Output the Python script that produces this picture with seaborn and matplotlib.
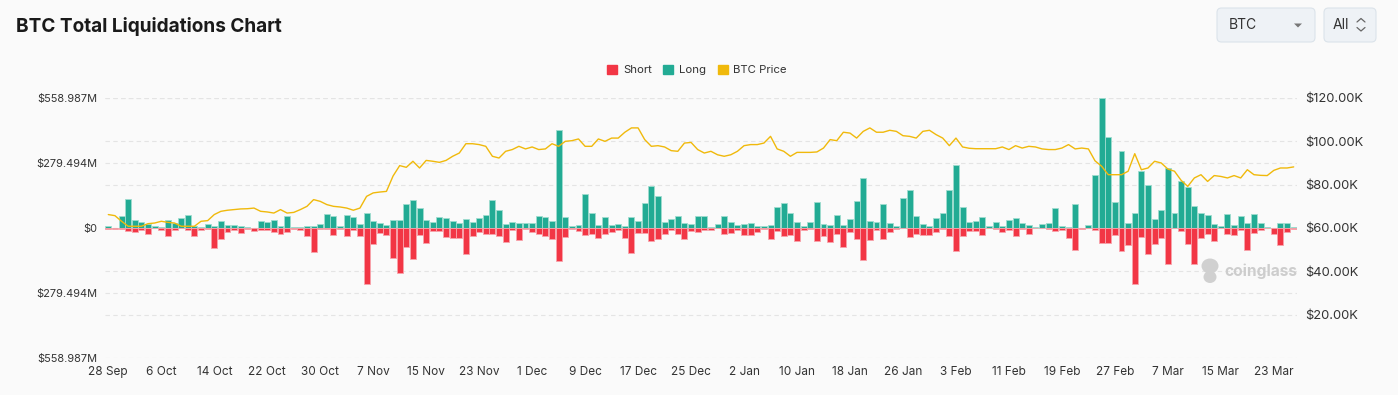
import numpy as np
import pandas as pd
import seaborn as sns
import matplotlib.pyplot as plt
from matplotlib.patches import Patch, FancyBboxPatch, Polygon, Ellipse
from matplotlib.lines import Line2D

# daily values, 28 Sep 2024 .. 26 Mar 2025
dates = pd.date_range('2024-09-28', periods=180, freq='D')

long_liq = [  # $M
    8, 2, 53, 125, 36, 24, 17, 9, 4, 36, 21, 43, 57, 7, 3, 17, 7, 29, 14, 14,
    10, 4, 2, 30, 26, 34, 10, 52, 3, 3, 7, 10, 19, 62, 50, 7, 57, 46, 19, 63,
    32, 23, 14, 36, 36, 105, 122, 86, 34, 24, 47, 43, 32, 23, 39, 27, 44, 54, 122, 77,
    17, 26, 21, 21, 21, 50, 47, 32, 420, 46, 7, 13, 145, 64, 14, 47, 14, 16, 9, 46,
    30, 109, 182, 136, 24, 40, 52, 21, 17, 50, 50, 3, 17, 53, 26, 11, 19, 21, 7, 10,
    14, 90, 108, 64, 26, 9, 26, 110, 19, 14, 54, 13, 40, 118, 216, 30, 26, 102, 20, 7,
    129, 162, 50, 16, 10, 42, 63, 165, 271, 89, 26, 30, 47, 7, 26, 9, 34, 44, 21, 14,
    3, 16, 23, 85, 10, 3, 103, 1, 13, 229, 558.987, 391, 110, 331, 20, 64, 244, 185, 40, 79,
    259, 64, 204, 175, 96, 63, 57, 19, 7, 62, 14, 50, 21, 60, 23, 3, 1, 23, 23, 3,
]
short_liq = [  # $M
    3, 4, 4, 14, 19, 10, 24, 1, 7, 36, 10, 2, 10, 33, 7, 4, 87, 49, 19, 7,
    21, 4, 11, 10, 7, 19, 24, 16, 4, 9, 36, 105, 4, 4, 32, 4, 36, 10, 36, 239,
    69, 21, 32, 130, 195, 82, 132, 30, 64, 14, 14, 39, 44, 43, 112, 36, 16, 24, 26, 36,
    60, 10, 52, 4, 17, 26, 33, 47, 143, 40, 4, 14, 32, 26, 44, 27, 19, 7, 42, 107,
    21, 21, 54, 49, 24, 10, 27, 46, 11, 17, 10, 7, 1, 24, 21, 7, 32, 32, 16, 3,
    47, 11, 36, 30, 57, 7, 3, 57, 36, 60, 24, 82, 19, 49, 138, 50, 7, 49, 16, 4,
    1, 39, 24, 30, 29, 19, 4, 33, 100, 34, 11, 11, 30, 2, 4, 16, 9, 33, 4, 26,
    2, 1, 4, 14, 9, 44, 96, 3, 1, 10, 64, 64, 32, 97, 75, 239, 40, 112, 69, 44,
    153, 2, 14, 70, 153, 43, 24, 54, 1, 27, 30, 10, 95, 23, 10, 1, 24, 73, 16, 3,
]
btc_price = [  # $K
    66.2, 65.7, 63.1, 60.8, 60.8, 60.8, 62.0, 62.3, 63.1, 62.6,
    62.3, 60.8, 60.8, 60.8, 63.1, 63.4, 66.2, 67.7, 68.2, 68.5,
    68.8, 68.9, 69.2, 67.7, 67.4, 66.9, 68.5, 66.9, 67.2, 68.5,
    70.0, 73.1, 72.3, 70.8, 70.0, 69.7, 69.2, 68.2, 69.2, 74.6,
    76.2, 76.6, 76.9, 84.0, 88.8, 88.0, 90.8, 87.7, 91.2, 90.8,
    90.3, 91.2, 93.1, 94.6, 98.9, 98.9, 98.5, 97.7, 93.1, 92.3,
    95.4, 96.2, 97.7, 96.5, 97.4, 96.2, 96.5, 98.9, 97.7, 100.0,
    100.3, 101.1, 97.7, 97.7, 101.1, 100.0, 101.5, 101.5, 104.2, 106.2,
    106.2, 100.8, 97.7, 98.0, 97.4, 95.7, 95.4, 99.2, 99.5, 96.2,
    94.6, 95.4, 93.8, 93.1, 93.8, 95.4, 98.0, 98.5, 98.5, 99.2,
    102.3, 96.5, 95.4, 93.1, 94.9, 94.9, 94.9, 95.1, 96.9, 100.8,
    100.3, 104.2, 103.8, 101.5, 104.6, 106.2, 104.2, 104.2, 105.1, 104.6,
    102.6, 102.3, 101.5, 104.6, 105.1, 103.1, 101.5, 98.0, 101.5, 97.4,
    96.8, 96.6, 96.6, 96.6, 96.6, 97.4, 96.2, 98.0, 96.9, 97.7,
    97.4, 96.5, 96.2, 96.2, 96.9, 98.5, 96.5, 96.9, 96.5, 91.0,
    88.5, 84.6, 84.6, 84.6, 86.2, 94.3, 86.9, 87.7, 90.8, 90.0,
    87.2, 86.2, 82.0, 79.2, 83.1, 84.6, 81.5, 84.2, 83.8, 83.1,
    84.2, 83.1, 86.9, 84.6, 84.3, 84.2, 86.6, 87.7, 87.7, 88.2,
]

left_max = 558.987
left_ticks = [-558.987, -279.494, 0, 279.494, 558.987]
right_ticks = [20, 40, 60, 80, 100, 120]

GREEN, GREEN_EDGE = '#22ab94', '#9fdccf'
RED, RED_EDGE = '#f23645', '#f8a3ab'
YELLOW = '#f0b90b'
BG = '#fafafa'
TXT = '#333333'

sns.set_style('white')
plt.rcParams['font.family'] = ['Inter', 'DejaVu Sans']

W, H = 1398, 395
fig = plt.figure(figsize=(W / 100, H / 100), dpi=100, facecolor=BG)
ax = fig.add_axes([105 / W, 1 - 358 / H, 1192 / W, 260 / H])
ax.set_facecolor(BG)

day_idx = np.arange(len(dates))
sns.barplot(x=day_idx, y=long_liq, ax=ax, color=GREEN, saturation=1, width=0.9,
            edgecolor=GREEN_EDGE, linewidth=0.6, zorder=2)
sns.barplot(x=day_idx, y=-np.array(short_liq), ax=ax, color=RED, saturation=1, width=0.9,
            edgecolor=RED_EDGE, linewidth=0.6, zorder=2)

ax.set_xlim(-0.5, len(dates) - 0.5)
ax.set_ylim(-left_max, left_max)
ax.set_yticks(left_ticks)
ax.set_yticklabels(['$0' if v == 0 else f'${abs(v):.3f}M' for v in left_ticks])
tick_pos = list(range(0, len(dates), 8))
ax.set_xticks(tick_pos)
ax.set_xticklabels([f"{dates[i].day} {dates[i].strftime('%b')}" for i in tick_pos])
ax.tick_params(axis='both', length=0, labelcolor=TXT)
ax.tick_params(axis='x', pad=6, labelsize=8.5)
ax.tick_params(axis='y', pad=5.5, labelsize=7.9)
ax.set_xlabel('')
ax.set_ylabel('')

# price axis
ax2 = ax.twinx()
sns.lineplot(x=day_idx, y=btc_price, ax=ax2, color=YELLOW, linewidth=1)
ax2.set_ylim(0, 120)
ax2.set_yticks(right_ticks)
ax2.set_yticklabels([f'${v:.2f}K' for v in right_ticks])
ax2.tick_params(axis='y', length=0, labelsize=9.3, labelcolor=TXT, pad=6)
ax2.set_ylabel('')

# dashed grid for both scales, kept behind the bars
grid_vals = left_ticks + [(v - 60) / 60 * left_max for v in right_ticks]
for g in grid_vals:
    ax.axhline(g, color='#e4e4e4', lw=0.8, ls=(0, (4, 3)), zorder=0)

for a in (ax, ax2):
    for s in a.spines.values():
        s.set_visible(False)

# title
fig.text(16 / W, 1 - 26 / H, 'BTC Total Liquidations Chart', fontsize=13.7,
         fontweight='bold', color='#1a1a1a', va='center', ha='left')

# legend
handles = [Patch(color=RED, label='Short'), Patch(color=GREEN, label='Long'),
           Patch(color=YELLOW, label='BTC Price')]
fig.legend(handles=handles, loc='center', bbox_to_anchor=(697 / W, 1 - 70 / H), ncol=3,
           frameon=False, fontsize=8.2, handlelength=0.9, handleheight=0.9,
           handletextpad=0.5, columnspacing=1.0, labelcolor=TXT)

# selector widgets (top right)
px = fig.dpi_scale_trans


def box(x0, y0, x1, y1):
    fig.add_artist(FancyBboxPatch((x0 / 100, (H - y1) / 100), (x1 - x0) / 100, (y1 - y0) / 100,
                                  boxstyle='round,pad=0,rounding_size=0.045',
                                  transform=px, facecolor='#eef2f6', edgecolor='#dbe3ea', lw=0.8))


box(1217, 8, 1315, 42)
box(1324, 8, 1376, 42)
fig.text(1229 / W, 1 - 25 / H, 'BTC', fontsize=10, color=TXT, va='center', ha='left')
fig.text(1333 / W, 1 - 25 / H, 'All', fontsize=10, color=TXT, va='center', ha='left')
fig.add_artist(Polygon([[12.94, (H - 23.5) / 100], [13.02, (H - 23.5) / 100],
                        [12.98, (H - 27.5) / 100]], closed=True, transform=px,
                       facecolor='#777777', edgecolor='none'))
fig.add_artist(Line2D([13.57, 13.61, 13.65], [(H - 22) / 100, (H - 18.5) / 100, (H - 22) / 100],
                      transform=px, color='#666666', lw=0.9))
fig.add_artist(Line2D([13.57, 13.61, 13.65], [(H - 27.5) / 100, (H - 31) / 100, (H - 27.5) / 100],
                      transform=px, color='#666666', lw=0.9))

# watermark
fig.add_artist(Ellipse((12.10, (H - 266) / 100), 0.17, 0.15, transform=px,
                       facecolor='#d0d0d0', edgecolor='none'))
fig.add_artist(Ellipse((12.10, (H - 277) / 100), 0.13, 0.12, transform=px,
                       facecolor='#d0d0d0', edgecolor='none'))
fig.text(1224 / W, 1 - 271 / H, 'coinglass', fontsize=11.2, fontweight='bold',
         color='#cdcdcd', va='center', ha='left')

fig.savefig('out.png', dpi=100, facecolor=BG)
